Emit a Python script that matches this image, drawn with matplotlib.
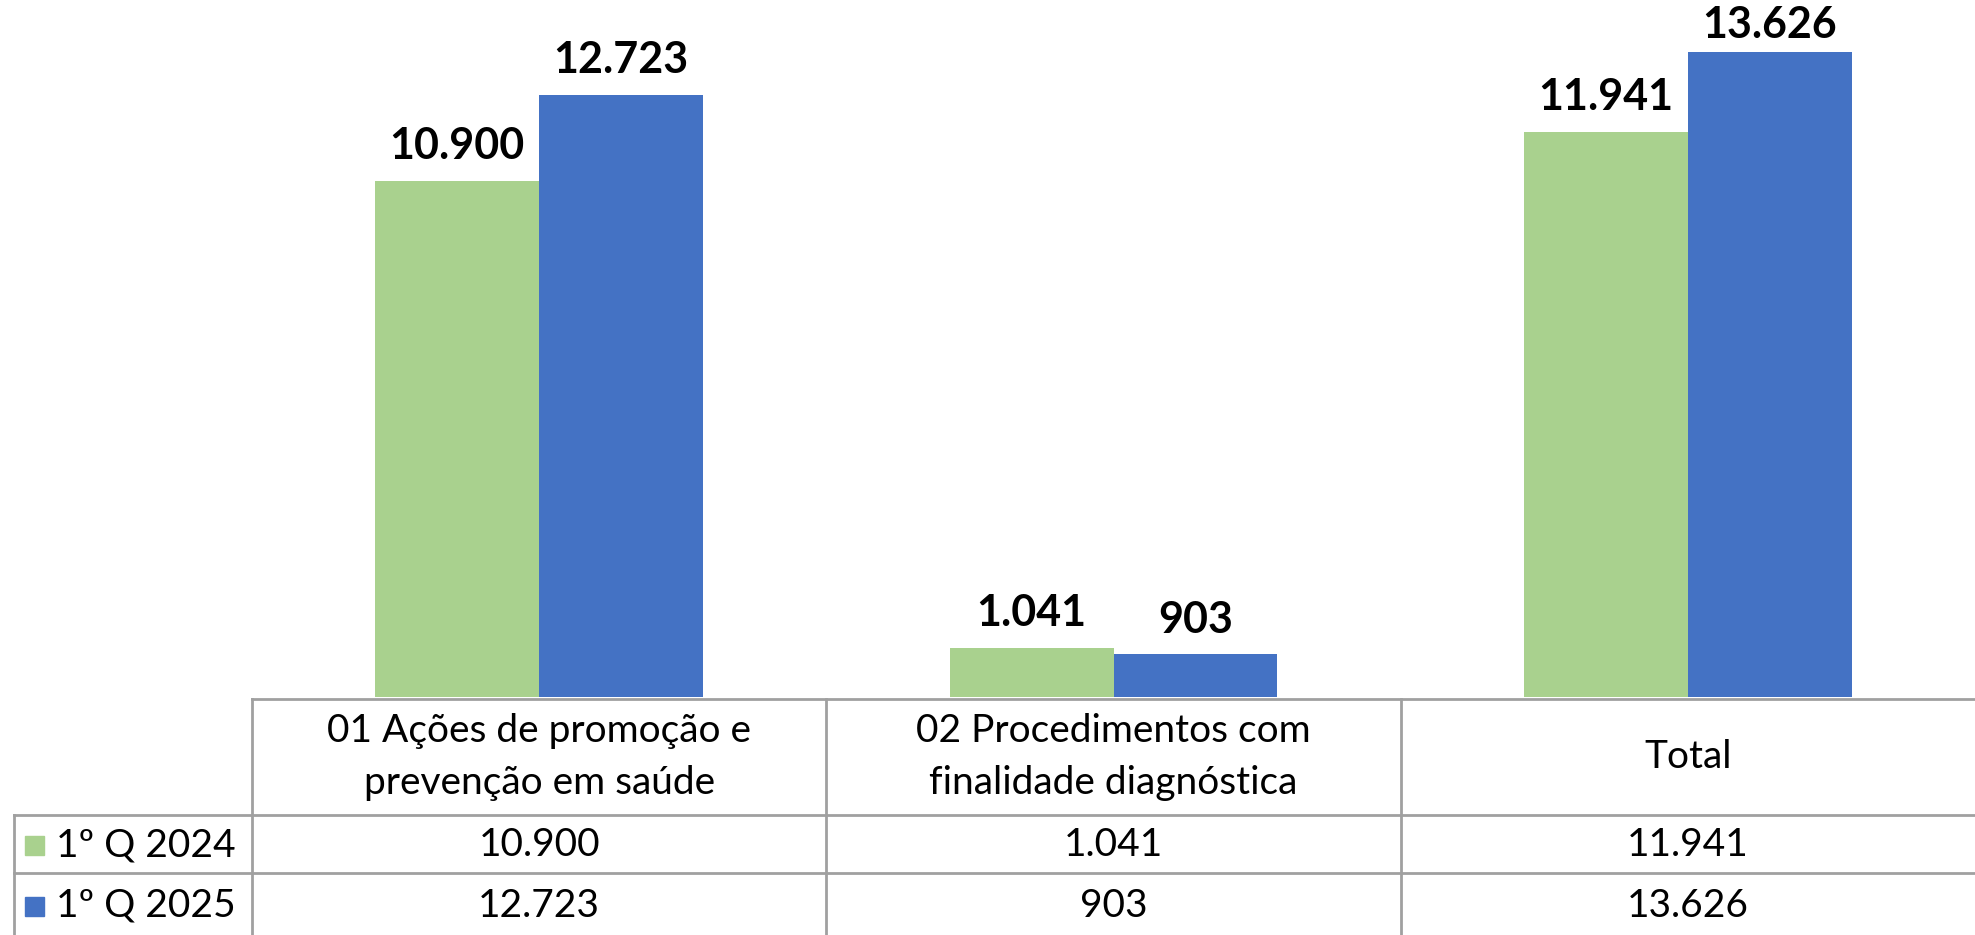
import matplotlib.pyplot as plt
from matplotlib.lines import Line2D
from matplotlib.patches import Rectangle
import matplotlib.transforms as mtransforms

# data
categories = ["01 Ações de promoção e\nprevenção em saúde",
              "02 Procedimentos com\nfinalidade diagnóstica",
              "Total"]
series_names = ["1º Q 2024", "1º Q 2025"]
q1_2024 = [10900, 1041, 11941]
q1_2025 = [12723, 903, 13626]
colors = ["#A9D18E", "#4472C4"]

W, H = 1975, 935
plt.rcParams['font.family'] = ['Lato', 'DejaVu Sans']

def fmt(v):
    return f"{v:,}".replace(",", ".")

fig = plt.figure(figsize=(W / 100, H / 100), dpi=100)
ax = fig.add_axes([252 / W, 1 - 697 / H, 1 - 252 / W, 697 / H])
ax.set_xlim(-0.5, 2.5)
ax.set_ylim(0, 14723)
ax.axis("off")

x = range(len(categories))
bw = 0.285
for i, (vals, c) in enumerate(zip([q1_2024, q1_2025], colors)):
    xs = [k + (i - 0.5) * bw for k in x]
    bars = ax.bar(xs, vals, width=bw, color=c, edgecolor="none")
    for b, v in zip(bars, vals):
        # keep the label inside the figure when the bar is tall
        top_px = H - ax.transData.transform((0, v))[1]
        off = min(25, (top_px - 25) * 72 / 100)
        ax.annotate(fmt(v), (b.get_x() + b.get_width() / 2, v),
                    xytext=(0, off), textcoords="offset points",
                    ha="center", va="center", fontsize=31, fontweight="bold")

# table under the chart
line_kw = dict(color="#a0a0a0", lw=2)
trans = mtransforms.blended_transform_factory(ax.transData, fig.transFigure)
fy = lambda p: 1 - p / H
fx = lambda p: p / W

rows = [699, 815, 873, 935]
fig.add_artist(Line2D([-0.5, 2.5], [fy(rows[0])] * 2, transform=trans, **line_kw))
for r in rows[1:3]:
    fig.add_artist(Line2D([fx(14), 1], [fy(r)] * 2, transform=fig.transFigure, **line_kw))
for b in [-0.5, 0.5, 1.5]:
    fig.add_artist(Line2D([b, b], [fy(rows[0]), 0], transform=trans, **line_kw))
fig.add_artist(Line2D([fx(14), fx(14)], [fy(rows[1]), 0], transform=fig.transFigure, **line_kw))

for k, cat in enumerate(categories):
    fig.text(k, fy(757), cat, transform=trans, ha="center", va="center",
             fontsize=28, linespacing=1.55)
    for vals, yc in zip([q1_2024, q1_2025], [845, 906]):
        fig.text(k, fy(yc), fmt(vals[k]), transform=trans, ha="center",
                 va="center", fontsize=28)

for name, c, yc in zip(series_names, colors, [845, 906]):
    fig.add_artist(Rectangle((fx(25), fy(yc + 10)), fx(19), 19 / H,
                             transform=fig.transFigure, color=c))
    fig.text(fx(56), fy(yc), name, ha="left", va="center", fontsize=28)

fig.savefig("out.png", dpi=100)
